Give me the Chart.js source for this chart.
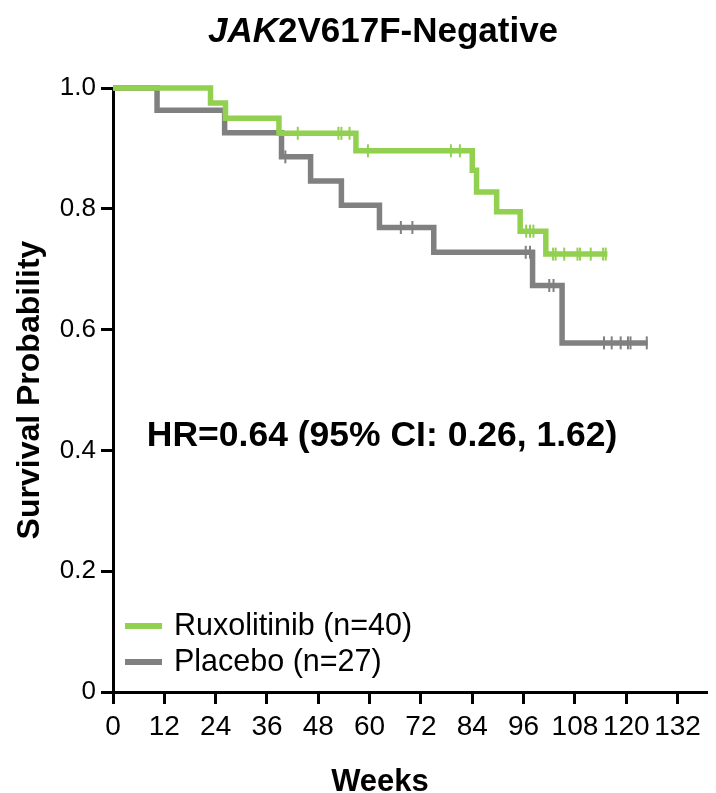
<!DOCTYPE html>
<html>
<head>
<meta charset="utf-8">
<script src="https://cdn.jsdelivr.net/npm/chart.js@4.4.1/dist/chart.umd.min.js"></script>
<style>
  body { margin: 0; background: #fff; }
  #wrap { width: 716px; height: 793px; position: relative; }
</style>
</head>
<body>
<div id="wrap"><canvas id="km"></canvas></div>
<script>
// Kaplan-Meier steps (week of event, survival after it)
const weeksRux = [0, 22.8, 26.3, 38.8, 56.8, 84.0, 85.0, 89.7, 95.2, 101.2, 115.6];
const survRux  = [1.0, 0.975, 0.95, 0.925, 0.896, 0.864, 0.828, 0.795, 0.763, 0.725, 0.725];
const censorRux = [43.2, 52.7, 53.4, 55.3, 59.6, 79.0, 81.1, 96.6, 97.5, 98.3,
                   102.9, 103.5, 105.5, 108.6, 109.2, 111.7, 114.6, 115.2];

const weeksPbo = [0, 10.3, 26.1, 39.4, 46.2, 53.4, 62.3, 75.0, 98.1, 105.0, 125.0];
const survPbo  = [1.0, 0.963, 0.926, 0.886, 0.846, 0.806, 0.769, 0.728, 0.673, 0.578, 0.578];
const censorPbo = [40.3, 67.3, 70.0, 96.5, 97.5, 102.0, 103.0,
                   114.8, 116.6, 118.7, 120.4, 121.0, 124.8];

const seriesLabels = ['Ruxolitinib (n=40)', 'Placebo (n=27)'];
const seriesColors = ['#92d050', '#808080'];
const xTickValues = [0, 12, 24, 36, 48, 60, 72, 84, 96, 108, 120, 132];
const yTickLabels = ['0', '0.2', '0.4', '0.6', '0.8', '1.0'];
const hrText = 'HR=0.64 (95% CI: 0.26, 1.62)';

const FONT = "'Liberation Sans', Arial, sans-serif";

function steps(times, surv) {
  return times.map((t, i) => ({ x: t, y: surv[i] }));
}
// survival level in force at a censoring time
function levelAt(times, surv, t) {
  let v = surv[0];
  for (let i = 0; i < times.length; i++) if (times[i] <= t) v = surv[i];
  return v;
}
function censorPoints(cens, times, surv) {
  return cens.map(t => ({ x: t, y: levelAt(times, surv, t) }));
}

const overlay = {
  id: 'overlay',
  afterDraw(chart) {
    const ctx = chart.ctx;
    const xs = chart.scales.x, ys = chart.scales.y;
    ctx.save();
    ctx.fillStyle = '#000';
    ctx.textBaseline = 'alphabetic';

    // title: italic gene name
    const a = 'JAK', b = '2V617F-Negative';
    ctx.font = 'italic bold 35px ' + FONT;
    const wa = ctx.measureText(a).width;
    ctx.font = 'bold 35px ' + FONT;
    const wb = ctx.measureText(b).width;
    const cx = 383;
    let x0 = cx - (wa + wb) / 2;
    ctx.font = 'italic bold 35px ' + FONT;
    ctx.fillText(a, x0, 42);
    ctx.font = 'bold 35px ' + FONT;
    ctx.fillText(b, x0 + wa, 42);

    // hazard ratio
    ctx.font = 'bold 35.5px ' + FONT;
    ctx.textAlign = 'left';
    ctx.textBaseline = 'middle';
    ctx.fillText(hrText, xs.getPixelForValue(7.9), ys.getPixelForValue(0.423));

    // x axis title
    ctx.font = 'bold 31px ' + FONT;
    ctx.textAlign = 'center';
    ctx.textBaseline = 'alphabetic';
    ctx.fillText('Weeks', 380, 791);

    // legend inside plot
    ctx.textAlign = 'left';
    ctx.textBaseline = 'middle';
    ctx.font = '30.5px ' + FONT;
    const ly = [626, 662];
    seriesLabels.forEach((lab, i) => {
      ctx.strokeStyle = seriesColors[i];
      ctx.lineWidth = 6;
      ctx.beginPath();
      ctx.moveTo(125, ly[i]);
      ctx.lineTo(162, ly[i]);
      ctx.stroke();
      ctx.fillStyle = '#000';
      ctx.fillText(lab, 174, ly[i] + 1);
    });
    ctx.restore();
  }
};

new Chart(document.getElementById('km'), {
  type: 'line',
  data: {
    datasets: [
      {
        label: seriesLabels[0],
        data: steps(weeksRux, survRux),
        stepped: 'before',
        borderColor: seriesColors[0],
        borderWidth: 5.5,
        pointRadius: 0,
        fill: false,
        clip: false,
        order: 1
      },
      {
        type: 'scatter',
        label: 'rux censored',
        data: censorPoints(censorRux, weeksRux, survRux),
        pointStyle: 'line',
        rotation: 90,
        pointRadius: 6.5,
        borderColor: seriesColors[0],
        pointBorderWidth: 2,
        clip: false,
        order: 0
      },
      {
        label: seriesLabels[1],
        data: steps(weeksPbo, survPbo),
        stepped: 'before',
        borderColor: seriesColors[1],
        borderWidth: 5.5,
        pointRadius: 0,
        fill: false,
        clip: false,
        order: 3
      },
      {
        type: 'scatter',
        label: 'pbo censored',
        data: censorPoints(censorPbo, weeksPbo, survPbo),
        pointStyle: 'line',
        rotation: 90,
        pointRadius: 6.5,
        borderColor: seriesColors[1],
        pointBorderWidth: 2,
        clip: false,
        order: 2
      }
    ]
  },
  options: {
    responsive: true,
    maintainAspectRatio: false,
    animation: false,
    events: [],
    layout: { padding: { top: 88, right: 2, left: 0, bottom: 0 } },
    plugins: {
      legend: { display: false },
      tooltip: { enabled: false }
    },
    scales: {
      x: {
        type: 'linear',
        min: 0,
        max: 139,
        border: { display: true, color: '#000', width: 3 },
        grid: { display: true, drawOnChartArea: false, drawTicks: true,
                tickLength: 12, tickWidth: 3, tickColor: '#000' },
        ticks: {
          autoSkip: false,
          maxRotation: 0,
          color: '#000',
          padding: 6,
          font: { family: FONT, size: 28 }
        },
        afterBuildTicks(scale) { scale.ticks = xTickValues.map(v => ({ value: v })); },
        afterFit(scale) { scale.height = 101; }
      },
      y: {
        min: 0,
        max: 1,
        border: { display: true, color: '#000', width: 3 },
        grid: { display: true, drawOnChartArea: false, drawTicks: true,
                tickLength: 12, tickWidth: 3, tickColor: '#000' },
        ticks: {
          stepSize: 0.2,
          color: '#000',
          padding: 5,
          font: { family: FONT, size: 26 },
          callback: (v, i) => yTickLabels[i]
        },
        title: {
          display: true,
          text: 'Survival Probability',
          color: '#000',
          font: { family: FONT, size: 32, weight: 'bold' },
          padding: { top: 11, bottom: 0 }
        },
        afterFit(scale) { scale.width = 113; }
      }
    }
  },
  plugins: [overlay]
});
</script>
</body>
</html>
